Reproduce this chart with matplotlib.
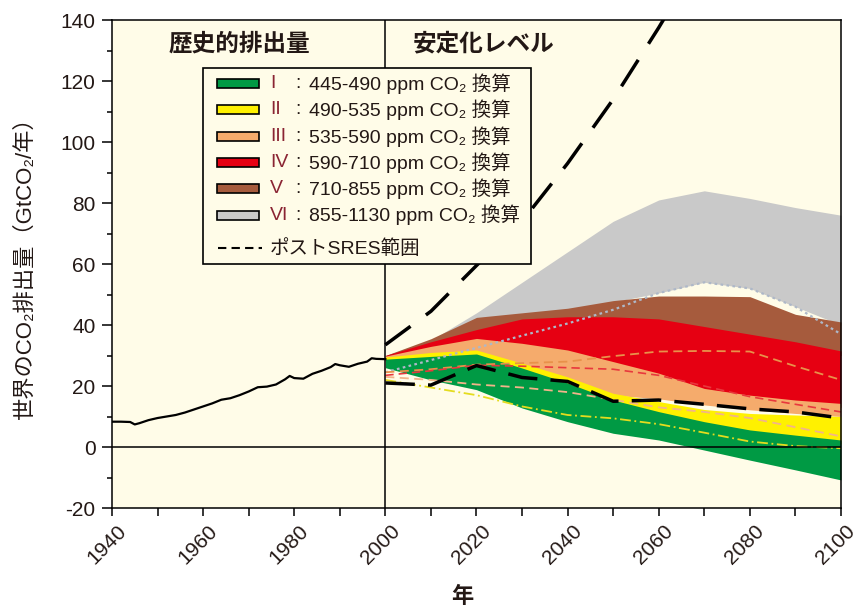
import matplotlib
matplotlib.use('Agg')
import matplotlib.pyplot as plt
from matplotlib.patches import Rectangle
from matplotlib.ticker import MultipleLocator
from matplotlib.transforms import ScaledTranslation

plt.rcParams['font.family'] = ['Liberation Sans', 'Noto Sans CJK JP', 'DejaVu Sans']
plt.rcParams['axes.unicode_minus'] = False
NARROW = ['Liberation Sans Narrow', 'Liberation Sans', 'DejaVu Sans']

TEXT = '#231815'
BG = '#FFFCE8'

# historical emissions, GtCO2 per year
hist_years = [1940, 1942, 1944, 1945, 1946, 1948, 1950, 1952, 1954, 1956, 1958,
              1960, 1962, 1964, 1966, 1968, 1970, 1972, 1974, 1976, 1978, 1979,
              1980, 1982, 1984, 1986, 1988, 1989, 1990, 1992, 1994, 1996, 1997,
              1998, 2000]
hist_emis = [8.3, 8.3, 8.2, 7.4, 7.8, 8.8, 9.5, 10.0, 10.5, 11.3, 12.3,
             13.3, 14.3, 15.5, 16.0, 17.0, 18.2, 19.6, 19.8, 20.5, 22.2, 23.3,
             22.6, 22.4, 24.0, 25.0, 26.2, 27.2, 26.8, 26.3, 27.3, 28.0, 29.1,
             28.9, 28.8]

# stabilisation categories, decade points
years = [2000, 2010, 2020, 2030, 2040, 2050, 2060, 2070, 2080, 2090, 2100]

cat1_low = [26, 22, 18.8, 12.8, 8.3, 4.5, 2.3, -1, -4.3, -7.5, -10.8]
cat1_high = [28.8, 29.7, 30.5, 25.9, 21, 15.4, 11.6, 8.3, 5.6, 3.9, 2.3]
cat2_low = [28, 29, 29, 24, 19, 14, 10, 7, 4, 2, 1]
cat2_high = [29.5, 31, 31.8, 27.5, 23, 17.6, 14.9, 12.3, 11, 10.5, 10]
cat3_low = [28.5, 29.5, 30, 26, 22, 17, 15.8, 13.8, 12.2, 11.0, 10.0]
cat3_high = [29.8, 33, 35.6, 34, 31.8, 28, 24.2, 19.2, 17, 15.4, 14.3]
cat4_low = [28, 31, 33, 31, 28, 25, 21, 17, 15, 14, 13]
cat4_high = [30, 34.5, 38.5, 42, 42.7, 42.7, 42, 39.5, 37, 34.5, 31.5]
cat5_low = [29, 32, 35, 38, 39, 39, 38, 36, 34, 32, 30]
cat5_high = [30, 35.5, 42.5, 44, 45.5, 48, 49.5, 49.5, 49.3, 43.5, 41]
cat6_low = [29, 33, 38, 42, 45, 47.5, 50.5, 54, 52, 46, 40]
cat6_high = [30, 35, 44, 54, 64, 74, 81, 84, 81.5, 78.5, 76]

# single scenario lines inside the bands
line_gray = [24.5, 28.5, 32.5, 36.5, 40.5, 45, 50.5, 54, 52, 46, 37]
line_orange = [24.5, 25.5, 27, 27.5, 28, 29.8, 31.3, 31.5, 31.3, 26.5, 22]
line_red = [23.5, 25, 26.8, 26.5, 26, 25.5, 23.5, 20, 16.5, 14, 11.5]
line_pale = [23, 22, 20.5, 19.5, 18, 15.5, 13, 11.5, 9.5, 6.5, 3.5]
line_yellow = [22, 19.5, 17, 13.3, 10.5, 9.4, 7.5, 4.7, 1.8, 0.3, -0.4]

# post-SRES range
sres_low = [21, 20.3, 26.7, 22.8, 21.5, 15, 15.4, 14, 12.5, 11.5, 9.5]
sres_high_years = [2000, 2010, 2020, 2030, 2040, 2050, 2060, 2065]
sres_high = [33.5, 44.5, 59.5, 74, 93, 114, 137.5, 150]

cat_names = ['I', 'II', 'III', 'IV', 'V', 'VI']
cat_ranges = ['445-490', '490-535', '535-590', '590-710', '710-855', '855-1130']
cat_colors = ['#009A44', '#FFF100', '#F5AB6C', '#E60012', '#A65B3D', '#C9C9C9']
cat_bands = [(cat1_low, cat1_high), (cat2_low, cat2_high), (cat3_low, cat3_high),
             (cat4_low, cat4_high), (cat5_low, cat5_high), (cat6_low, cat6_high)]

fig = plt.figure(figsize=(8.6, 6.1), dpi=100)
ax = fig.add_axes([0.1302, 0.1672, 0.8477, 0.8])
ax.set_facecolor(BG)

# highest category first so lower ones sit on top
for (low, high), c in reversed(list(zip(cat_bands, cat_colors))):
    ax.fill_between(years, low, high, color=c, lw=0, zorder=1)

ax.plot(years, line_gray, color='#AEB8C8', lw=1.6, ls=(0, (1.2, 1.5)), zorder=2)
ax.plot(years, line_orange, color='#E8914A', lw=1.3, ls=(0, (5, 3)), zorder=2)
ax.plot(years, line_red, color='#E8383D', lw=1.2, ls=(0, (5, 3)), zorder=2)
ax.plot(years, line_pale, color='#F2B48A', lw=1.3, ls=(0, (5, 3)), zorder=2)
ax.plot(years, line_yellow, color='#E4DC1E', lw=1.3, ls=(0, (6, 2, 1, 2)), zorder=2)

ax.axhline(0, color='black', lw=1.1, zorder=2.5)
ax.axvline(2000, color='black', lw=1.1, zorder=2.5)

ax.plot(years, sres_low, color='black', lw=2.5, ls=(0, (8.5, 3.8)), zorder=3)
ax.plot(sres_high_years, sres_high, color='black', lw=2.5, ls=(0, (9, 5.5)), zorder=3)
ax.plot(hist_years, hist_emis, color='black', lw=1.6, zorder=3)

ax.set_xlim(1940, 2100)
ax.set_ylim(-20, 140)
ax.xaxis.set_major_locator(MultipleLocator(20))
ax.xaxis.set_minor_locator(MultipleLocator(10))
ax.yaxis.set_major_locator(MultipleLocator(20))
ax.yaxis.set_minor_locator(MultipleLocator(10))
ax.tick_params(which='major', direction='out', width=1.1, labelsize=15,
               labelcolor=TEXT, labelfontfamily=NARROW)
ax.tick_params(axis='y', which='major', length=7.2, pad=4.5)
ax.tick_params(axis='y', which='minor', direction='out', length=3.6, width=1.1)
ax.tick_params(axis='x', which='major', length=6)
ax.tick_params(axis='x', which='minor', direction='out', length=5.5, width=1.1)
shift = ScaledTranslation(-5 / 100, 0, fig.dpi_scale_trans)
for lbl in ax.get_xticklabels():
    lbl.set_rotation(45)
    lbl.set_transform(lbl.get_transform() + shift)
for sp in ax.spines.values():
    sp.set_linewidth(1.1)
    sp.set_zorder(4)

ax.text(1968, 132, '歴史的排出量', ha='center', va='center', fontsize=17,
        fontweight='bold', color=TEXT)
ax.text(2006, 132, '安定化レベル', ha='left', va='center', fontsize=17,
        fontweight='bold', color=TEXT)

# legend box
ax.add_patch(Rectangle((0.125, 0.5), 0.45, 0.402, transform=ax.transAxes,
                       facecolor=BG, edgecolor='black', lw=1.2, zorder=5))
row_y = [0.870, 0.816, 0.761, 0.708, 0.655, 0.600]
for y, name, rng, c in zip(row_y, cat_names, cat_ranges, cat_colors):
    ax.add_patch(Rectangle((0.1436, y - 0.0092), 0.058, 0.0184,
                           transform=ax.transAxes, facecolor=c,
                           edgecolor='black', lw=1.2, zorder=6))
    ax.text(0.2167, y, name, transform=ax.transAxes, ha='left', va='center',
            fontsize=14, color='#8A2433', zorder=6)
    ax.text(0.255, y, ':', transform=ax.transAxes, ha='center', va='center',
            fontsize=14, color=TEXT, zorder=6)
    ax.text(0.2707, y, rng + ' ppm CO₂ 換算', transform=ax.transAxes,
            ha='left', va='center', fontsize=14, color=TEXT, zorder=6)
ax.plot([0.1459, 0.2053], [0.532, 0.532], transform=ax.transAxes,
        color='black', lw=1.5, ls=(0, (4, 2.5)), zorder=6)
ax.text(0.2167, 0.532, 'ポストSRES範囲', transform=ax.transAxes, ha='left',
        va='center', fontsize=14, color=TEXT, zorder=6)

fig.text(0.029, 0.57, '世界のCO₂排出量（GtCO₂/年）', rotation=90, ha='center',
         va='center', fontsize=16, color=TEXT)
fig.text(462 / 860, 1 - 597 / 610, '年', ha='center', va='center', fontsize=16,
         fontweight='bold', color=TEXT)

fig.savefig('out.png', dpi=100, facecolor='white')
